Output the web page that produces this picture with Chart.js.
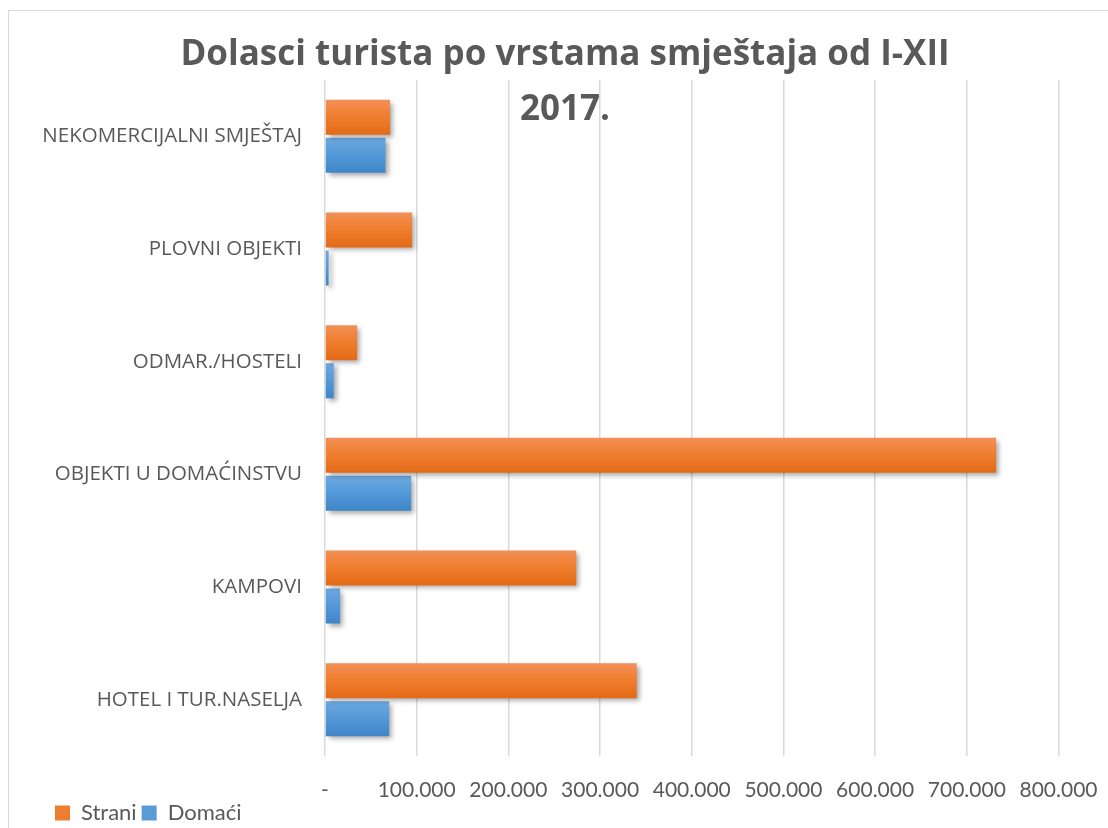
<!DOCTYPE html>
<html>
<head>
<meta charset="utf-8">
<script src="https://cdn.jsdelivr.net/npm/chart.js@4/dist/chart.umd.min.js"></script>
<style>
  html, body { margin: 0; padding: 0; background: #ffffff; overflow: hidden; width: 1108px; height: 828px; }
  #frame { position: absolute; left: 8px; top: 10px; width: 1130px; height: 840px; border: 1px solid #d9d9d9; box-sizing: border-box; }
  #wrap { position: absolute; left: 0; top: 0; width: 1114px; height: 823px; }
</style>
</head>
<body>
<div id="frame"><div id="wrap"><canvas id="c"></canvas></div></div>
<script>
const categories = ['NEKOMERCIJALNI SMJEŠTAJ', 'PLOVNI OBJEKTI', 'ODMAR./HOSTELI', 'OBJEKTI U DOMAĆINSTVU', 'KAMPOVI', 'HOTEL I TUR.NASELJA'];
const strani = [71000, 95000, 35000, 732000, 274000, 340000];
const domaci = [66000, 4000, 9500, 94000, 16500, 70000];
const seriesNames = ['Strani', 'Domaći'];
const tickLabels = ['-', '100.000', '200.000', '300.000', '400.000', '500.000', '600.000', '700.000', '800.000'];
const titleLines = ['Dolasci turista po vrstama smještaja od I-XII', '2017.'];

const TEXT = '#595959';

const gradientStops = {
  0: ['#f28f58', '#f07f2f', '#e36a17'],
  1: ['#6ea8e0', '#559ad9', '#3f86c9']
};

const barStyle = {
  id: 'barStyle',
  beforeDatasetsDraw(chart) {
    const ctx = chart.ctx;
    chart.data.datasets.forEach((ds, di) => {
      const meta = chart.getDatasetMeta(di);
      meta.data.forEach(el => {
        const p = el.getProps(['y', 'height'], true);
        const top = p.y - p.height / 2;
        const g = ctx.createLinearGradient(0, top, 0, top + p.height);
        const s = gradientStops[di];
        g.addColorStop(0, s[0]);
        g.addColorStop(0.45, s[1]);
        g.addColorStop(1, s[2]);
        el.options = Object.assign({}, el.options, { backgroundColor: g });
      });
    });
    ctx.save();
    ctx.shadowColor = 'rgba(0,0,0,0.35)';
    ctx.shadowBlur = 5;
    ctx.shadowOffsetX = 3;
    ctx.shadowOffsetY = 3;
  },
  afterDatasetsDraw(chart) {
    chart.ctx.restore();
  }
};

new Chart(document.getElementById('c'), {
  type: 'bar',
  data: {
    labels: categories,
    datasets: [
      { label: seriesNames[0], data: strani, backgroundColor: '#ed7d31', yAxisID: 'y',
        categoryPercentage: 0.675, barPercentage: 0.92 },
      { label: seriesNames[1], data: domaci, backgroundColor: '#5b9bd5', yAxisID: 'y',
        categoryPercentage: 0.675, barPercentage: 0.92 }
    ]
  },
  plugins: [barStyle],
  options: {
    indexAxis: 'y',
    responsive: true,
    maintainAspectRatio: false,
    animation: false,
    layout: { padding: { left: 41, right: 43, top: 0, bottom: 0 } },
    scales: {
      y: {
        position: 'left',
        grid: { display: false, drawTicks: false },
        border: { display: false },
        ticks: { color: TEXT, font: { family: 'Open Sans', size: 20.5 }, padding: 23 },
        afterFit: s => {
          s.width = 275;
          s._computeLabelArea = () => undefined;
        }
      },
      y2: {
        type: 'category',
        position: 'right',
        grid: { display: false, drawTicks: false },
        border: { display: false },
        ticks: { display: false },
        afterFit: s => { s.width = 20; }
      },
      x: {
        min: 0,
        max: 800000,
        grid: { color: '#d9d9d9', lineWidth: 1.5, drawTicks: false },
        border: { display: false },
        ticks: {
          stepSize: 100000,
          color: TEXT,
          font: { family: 'Lato', size: 21, lineHeight: '17px' },
          padding: 25.5,
          callback: (v) => tickLabels[Math.round(v / 100000)]
        },
        afterFit: s => { s.height = 41; }
      }
    },
    plugins: {
      title: {
        display: true,
        text: titleLines,
        color: TEXT,
        font: { family: 'Open Sans', size: 35, weight: 'bold', lineHeight: '55px' },
        padding: { top: 17, bottom: -58 }
      },
      legend: {
        position: 'bottom',
        align: 'start',
        labels: {
          color: TEXT,
          font: { family: 'Lato', size: 22 },
          boxWidth: 15,
          boxHeight: 15,
          padding: 5
        }
      },
      tooltip: { enabled: false }
    }
  }
});
</script>
</body>
</html>
